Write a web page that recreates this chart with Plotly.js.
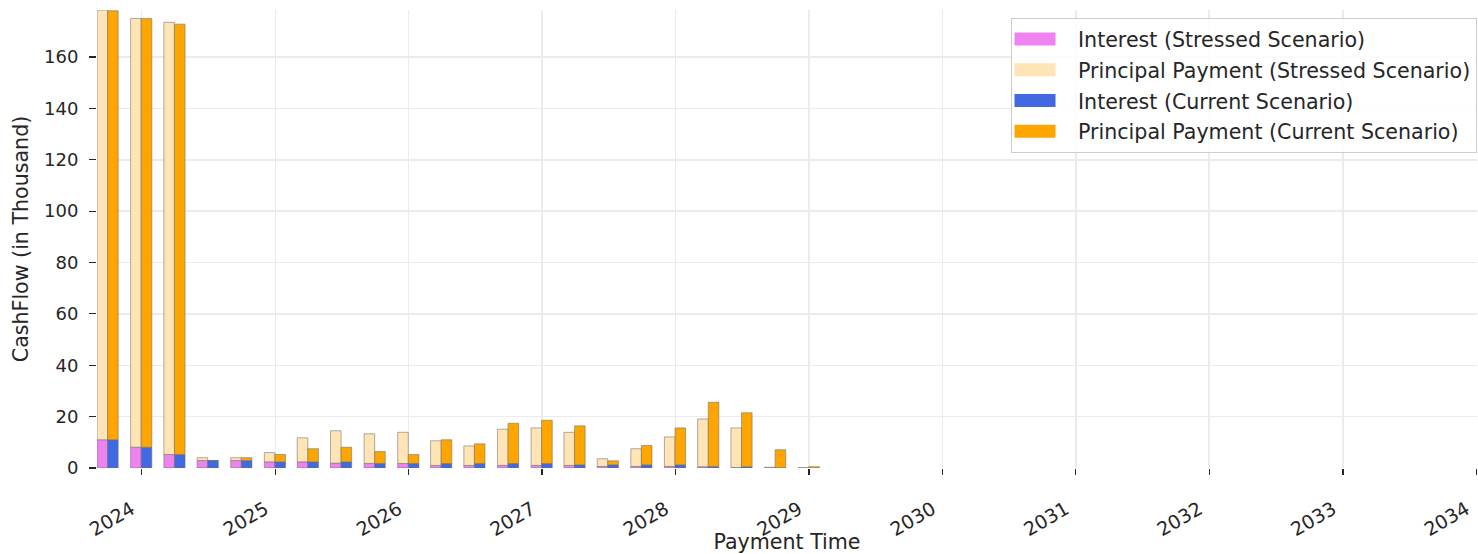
<!DOCTYPE html>
<html>
<head>
<meta charset="utf-8">
<script src="https://cdn.plot.ly/plotly-3.0.1.min.js"></script>
<style>html,body{margin:0;padding:0;background:#fff;}#chart{width:1478px;height:554px;}</style>
</head>
<body>
<div id="chart"></div>
<script>
const paymentDates = ["2023-09-30","2023-12-31","2024-03-31","2024-06-30","2024-09-30","2024-12-31",
  "2025-03-31","2025-06-30","2025-09-30","2025-12-31","2026-03-31","2026-06-30","2026-09-30","2026-12-31",
  "2027-03-31","2027-06-30","2027-09-30","2027-12-31","2028-03-31","2028-06-30","2028-09-30","2028-12-31"];
const stressedInterest = [11.0, 8.1, 5.25, 2.9, 2.9, 2.4, 2.4, 1.9, 1.8, 1.75, 1.0, 1.0, 1.0, 1.0, 1.0, 0.6, 0.6, 0.6, 0.5, 0.2, 0.05, 0];
const stressedPrincipal = [167.3, 166.9, 168.25, 1.1, 1.1, 3.6, 9.35, 12.6, 11.5, 12.15, 9.6, 7.6, 14.1, 14.6, 12.9, 3.0, 6.9, 11.5, 18.6, 15.4, 0.25, 0];
const currentInterest = [11.0, 8.1, 5.25, 2.9, 2.9, 2.4, 2.4, 2.4, 1.8, 1.75, 1.75, 1.75, 1.75, 1.75, 1.25, 1.25, 1.25, 1.25, 0.6, 0.5, 0.1, 0];
const currentPrincipal = [167.0, 166.9, 167.55, 0, 1.1, 2.85, 5.1, 5.7, 4.6, 3.5, 9.25, 7.65, 15.65, 16.85, 15.15, 1.55, 7.5, 14.35, 25.0, 21.0, 7.0, 0.5];
const yearTicks = ["2024","2025","2026","2027","2028","2029","2030","2031","2032","2033","2034"];

const DAY = 86400000;
const barWidth = 29 * DAY;
const edge = {color: 'rgba(110,110,110,0.55)', width: 1};
const ink = '#262626';
const bigFont = {family: 'DejaVu Sans', size: 20.6, color: ink};

function bar(name, y, base, color, offset, group) {
  return {
    type: 'bar', name: name, x: paymentDates, y: y, base: base,
    width: paymentDates.map(() => barWidth),
    offset: paymentDates.map(() => offset),
    marker: {color: color, line: edge},
    legendgroup: group
  };
}

const traces = [
  bar('Interest (Stressed Scenario)', stressedInterest, paymentDates.map(() => 0), '#EE82EE', -barWidth, 'a'),
  bar('Principal Payment (Stressed Scenario)', stressedPrincipal, stressedInterest, '#FFE4B5', -barWidth, 'b'),
  bar('Interest (Current Scenario)', currentInterest, paymentDates.map(() => 0), '#4169E1', 0, 'c'),
  bar('Principal Payment (Current Scenario)', currentPrincipal, currentInterest, '#FFA500', 0, 'd')
];

const layout = {
  width: 1478, height: 554,
  margin: {l: 97, r: 1, t: 10, b: 86},
  paper_bgcolor: '#fff', plot_bgcolor: '#fff',
  barmode: 'overlay',
  font: bigFont,
  xaxis: {
    type: 'date', range: ['2023-09-01', '2034-01-03'],
    tickvals: yearTicks.map(y => y + '-01-01'), ticktext: yearTicks,
    tickangle: -30, ticks: 'outside', ticklen: 6, tickcolor: ink, tickwidth: 1.2,
    ticklabelstandoff: 16, ticklabelshift: -10,
    showgrid: true, gridcolor: '#ebebeb', gridwidth: 1.5,
    showline: false, zeroline: false,
    tickfont: {family: 'DejaVu Sans', size: 19, color: ink},
    title: {text: 'Payment Time', font: bigFont, standoff: 0}
  },
  yaxis: {
    range: [0, 178.3], tickvals: [0,20,40,60,80,100,120,140,160],
    ticks: 'outside', ticklen: 7, tickcolor: ink, tickwidth: 1.2,
    ticklabelstandoff: 7,
    showgrid: true, gridcolor: '#ebebeb', gridwidth: 1.5,
    showline: false, zeroline: false,
    tickfont: {family: 'DejaVu Sans', size: 18, color: ink},
    title: {text: 'CashFlow (in Thousand)', font: bigFont, standoff: 9}
  },
  legend: {
    x: 1.0, xanchor: 'right', y: 0.9825, yanchor: 'top',
    bgcolor: 'rgba(255,255,255,0.85)', bordercolor: '#cccccc', borderwidth: 1,
    font: bigFont, traceorder: 'grouped', tracegroupgap: 1, itemwidth: 56
  },
  showlegend: true
};

Plotly.newPlot('chart', traces, layout, {displayModeBar: false, staticPlot: true}).then(gd => {
  // widen the legend patches to matplotlib-style rectangles
  gd.querySelectorAll('.legend .legendpoints path').forEach(p => {
    p.setAttribute('d', 'M10.5,6.5H-30.5V-6.5H10.5Z');
    p.style.strokeWidth = '0px';
  });
});
</script>
</body>
</html>
